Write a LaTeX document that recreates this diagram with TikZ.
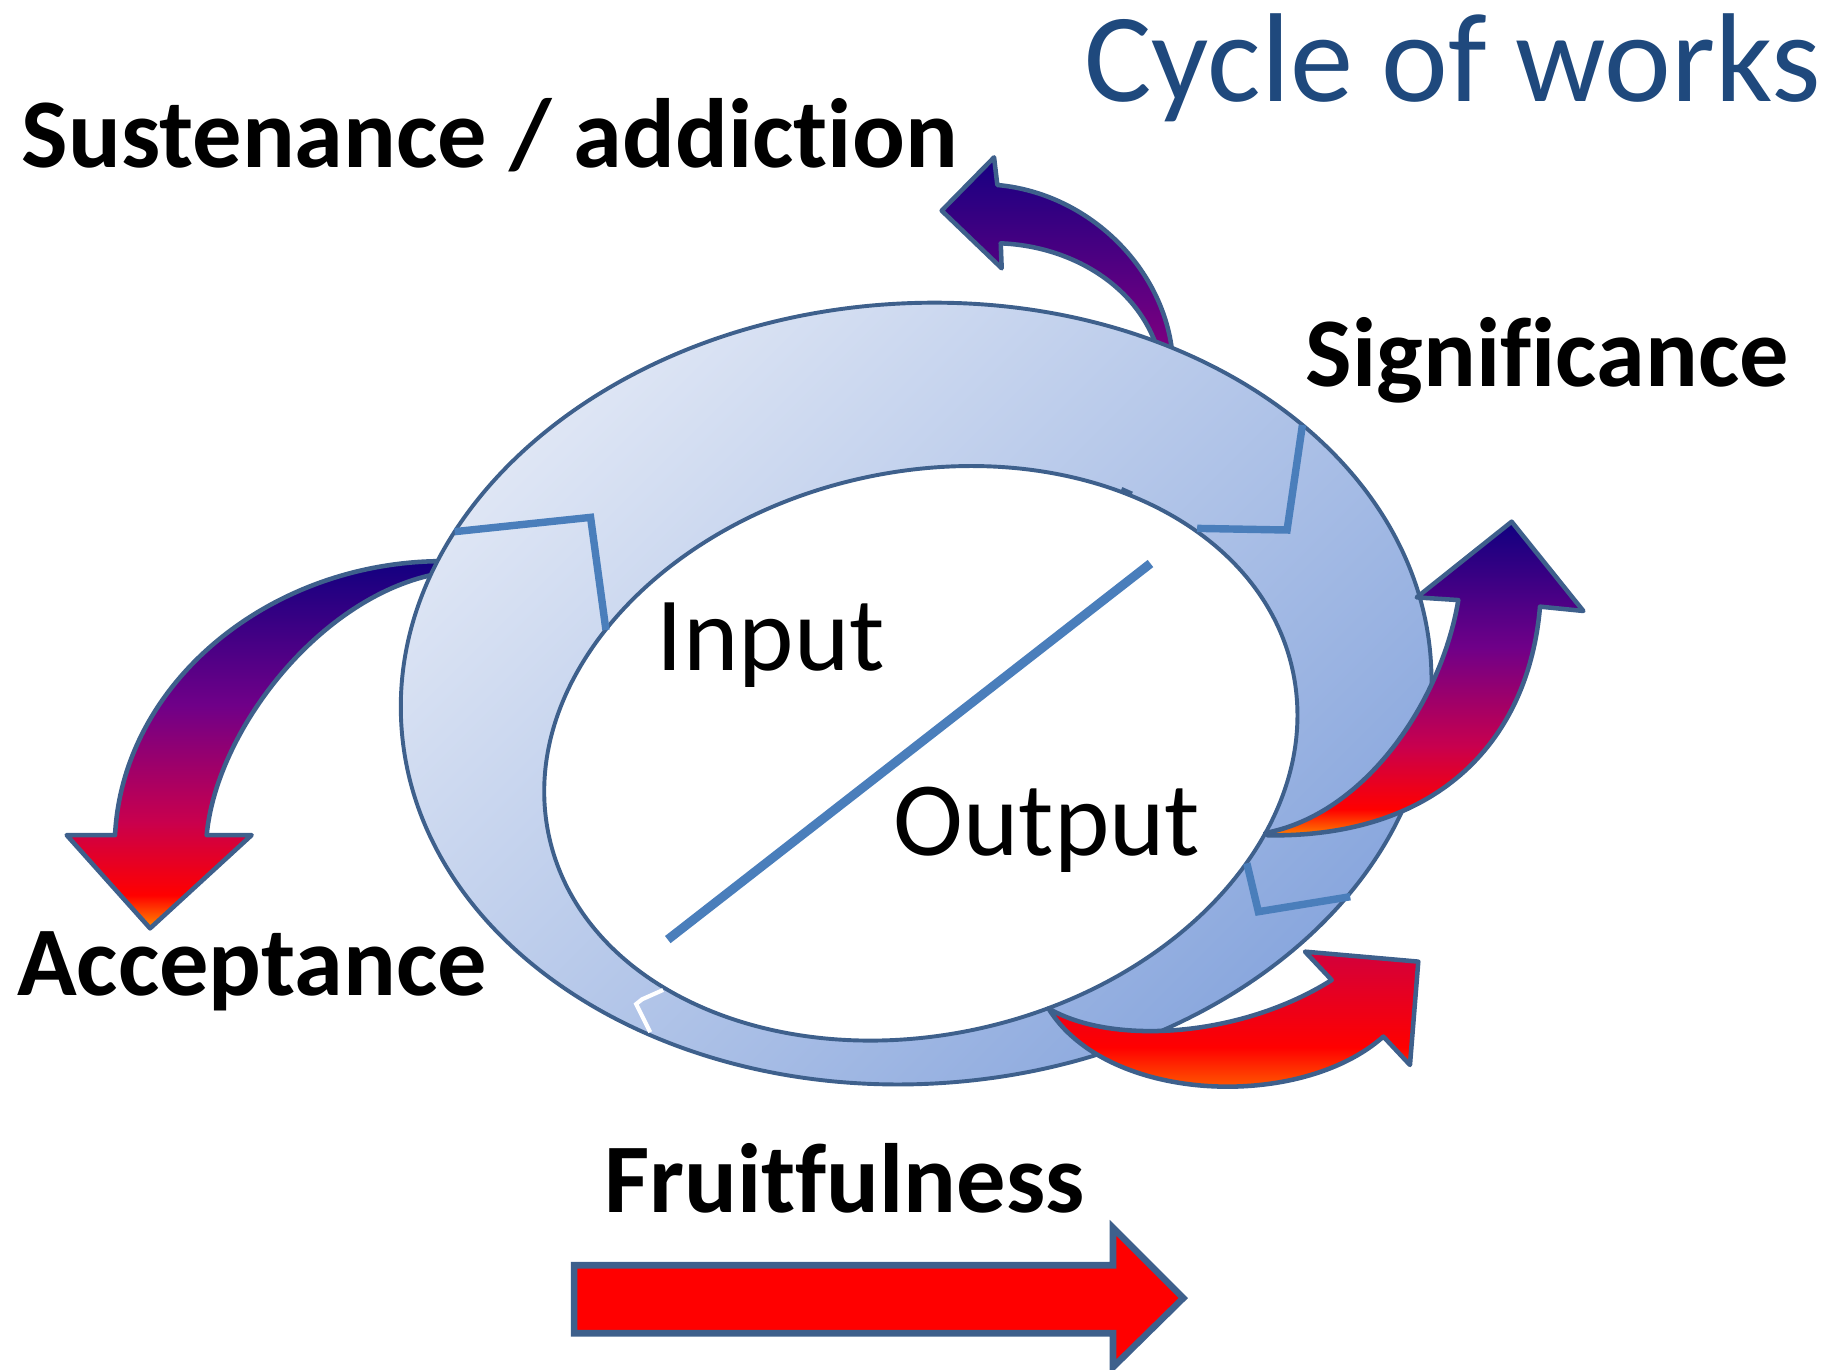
\documentclass[tikz,border=0pt]{standalone}
\usepackage{fontspec}
\setmainfont{Carlito}[Ligatures={NoCommon}]
\definecolor{titleblue}{RGB}{31,73,125}
\definecolor{abord}{RGB}{62,96,140}
\definecolor{pblue}{RGB}{74,126,187}
\definecolor{ringA}{RGB}{224,231,245}
\definecolor{ringB}{RGB}{192,208,237}
\definecolor{ringC}{RGB}{136,166,221}
\definecolor{tnavy}{RGB}{22,0,130}
\definecolor{tpurple}{RGB}{130,0,128}
\definecolor{cnavy}{RGB}{16,0,128}
\definecolor{cpurple}{RGB}{112,0,136}
\definecolor{ccrimson}{RGB}{200,0,78}
\definecolor{ccrimsonb}{RGB}{210,0,60}
\definecolor{cred}{RGB}{255,0,0}
\definecolor{corange}{RGB}{255,140,0}
\pgfdeclareverticalshading{rainbowarrow}{100bp}{color(0bp)=(corange); color(25bp)=(corange); color(29.5bp)=(cred); color(39.5bp)=(ccrimson); color(55bp)=(cpurple); color(75bp)=(cnavy); color(100bp)=(cnavy)}
\pgfdeclareverticalshading{redorange}{100bp}{color(0bp)=(corange); color(25bp)=(corange); color(45bp)=(cred); color(75bp)=(ccrimsonb); color(100bp)=(ccrimsonb)}
\tikzset{
  arrowshape/.style={draw=abord, line width=1.1pt, line join=round},
  ringline/.style={draw=abord, line width=0.95pt},
  partline/.style={draw=pblue, line width=1.8pt},
  boldlabel/.style={anchor=base west, inner sep=0pt, text=black, font=\fontsize{23.9pt}{28pt}\selectfont\bfseries},
  plainlabel/.style={anchor=base west, inner sep=0pt, text=black, font=\fontsize{25.6pt}{30pt}\selectfont},
}
\begin{document}
\begin{tikzpicture}[x=0.01cm,y=-0.01cm]
\useasboundingbox (0,0) rectangle (1568,1169);

% top arrow (under the ring)
\shadedraw[arrowshape, top color=tnavy, bottom color=tpurple]
  (1001,305) .. controls (995,230) and (930,165) .. (851.3,157.9)
  -- (848.5,134.3) -- (803.8,179.8) -- (855,229) -- (854.2,207.7)
  .. controls (915,210) and (975,245) .. (990,305) -- cycle;

% left arrow (under the ring)
\shadedraw[arrowshape, shading=rainbowarrow]
  (385,479) .. controls (235,476) and (105,580) .. (98.2,712.8)
  -- (56.9,712.8) -- (128.1,792.4) -- (214.8,712.8) -- (176.4,712.8)
  .. controls (185,620) and (280,500) .. (385,488) -- cycle;

% ring
\begin{scope}[rotate around={3.5:(782,592)}]
  \shade[top color=ringA, middle color=ringB, bottom color=ringC, shading angle=45]
    (782,592) ellipse [x radius=4.40cm, y radius=3.33cm];
  \draw[ringline] (782,592) ellipse [x radius=4.40cm, y radius=3.33cm];
\end{scope}
\begin{scope}[rotate around={13:(786,643)}]
  \filldraw[ringline, fill=white] (786,643) ellipse [x radius=3.25cm, y radius=2.40cm];
\end{scope}

% partitions of the ring
\draw[partline] (388.1,453.8) -- (504.1,441.6) -- (517.2,537.7);
\draw[partline] (1111.7,362.8) -- (1098.6,452.4) -- (1021.9,451);
\draw[partline] (1064.3,736.9) -- (1074.1,778.2) -- (1152.5,765.4);
\draw[white, line width=1pt] (566,845) -- (548,853) -- (543,857) -- (555,881);
\draw[abord, line width=1.4pt] (957,418) -- (966,422);

% diagonal divider
\draw[pblue, line width=2.2pt] (570,802) -- (982,481);

% right arrow
\shadedraw[arrowshape, shading=rainbowarrow]
  (1080,711) .. controls (1165,695) and (1230,600) .. (1244.8,512.2)
  -- (1209.3,509.9) -- (1290.3,445.3) -- (1351.5,521.5) -- (1314.5,517.8)
  .. controls (1305,630) and (1230,715) .. (1082,713) -- cycle;

% bottom arrow
\shadedraw[arrowshape, shading=redorange]
  (894.9,860.7) .. controls (950,893) and (1060,885) .. (1136.7,836.5)
  -- (1113.9,812.3) -- (1210.6,820.8) -- (1203.5,909) -- (1180.8,884.8)
  .. controls (1110,948) and (945,942) .. (894.9,860.7) -- cycle;

% fruitfulness arrow
\filldraw[fill=red, draw=abord, line width=1.6pt, line join=miter]
  (490,1080) -- (950,1080) -- (950,1048) -- (1010,1108) -- (950,1167)
  -- (950,1138) -- (490,1138) -- cycle;

% texts
\node[anchor=base west, inner sep=0pt, text=titleblue, font=\fontsize{30.7pt}{36pt}\selectfont] (title) at (925,86.8) {Cycle of works};
\node[boldlabel] (sust) at (18,143) {Sustenance / addiction};
\node[boldlabel] (sig) at (1114,330) {Significance};
\node[boldlabel] (acc) at (14,850) {Acceptance};
\node[boldlabel] (fruit) at (515,1035) {Fruitfulness};
\node[plainlabel] (inp) at (560,572) {Input};
\node[plainlabel] (outp) at (762,730) {Output};
\end{tikzpicture}
\end{document}
